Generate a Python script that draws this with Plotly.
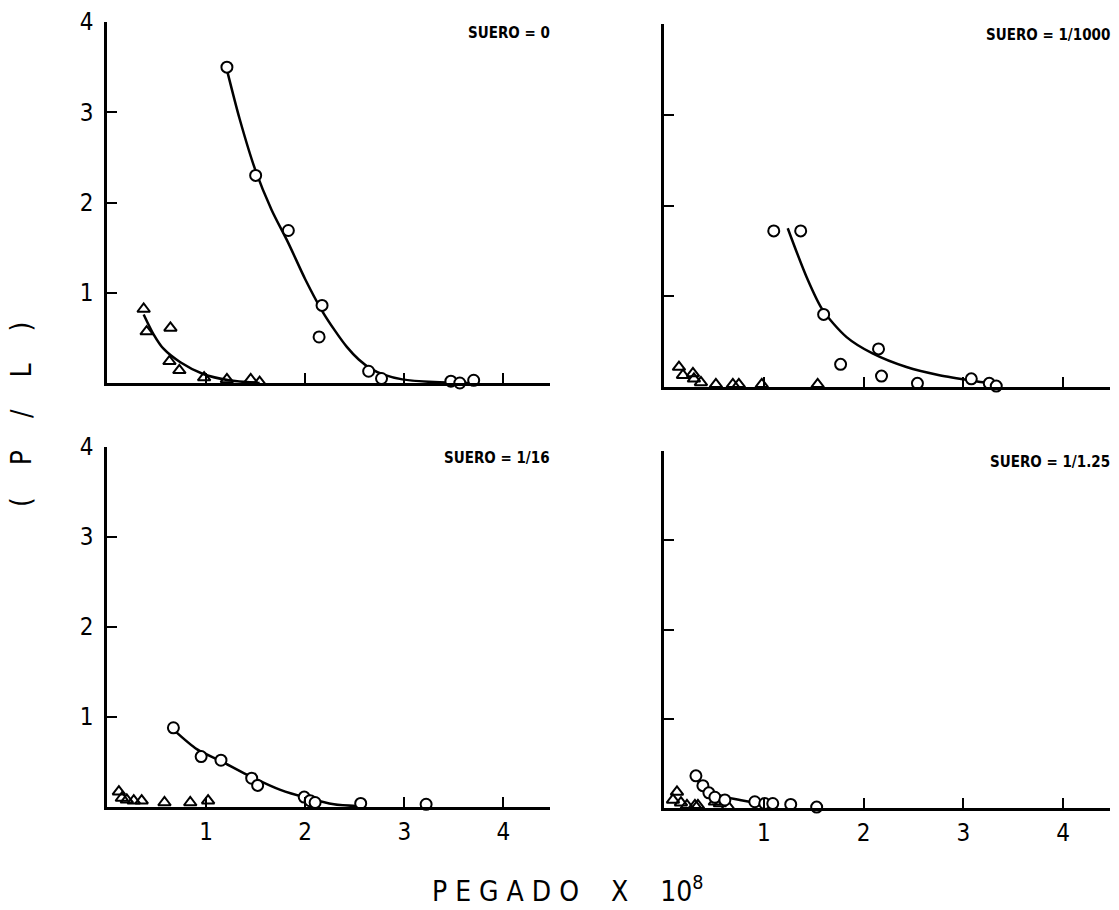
import plotly.graph_objects as go

# ---------------- data ----------------
# Panel A: SUERO = 0
a_circ_x = [1.21, 1.50, 1.83, 2.17, 2.14, 2.64, 2.77, 3.47, 3.56, 3.70]
a_circ_y = [3.50, 2.30, 1.69, 0.86, 0.51, 0.13, 0.05, 0.02, 0.00, 0.03]
a_tri_x = [0.37, 0.40, 0.64, 0.63, 0.73, 0.98, 1.21, 1.45, 1.54]
a_tri_y = [0.82, 0.57, 0.61, 0.24, 0.14, 0.06, 0.04, 0.04, 0.01]
a_ccurve_x = [1.21, 1.34, 1.50, 1.66, 1.83, 2.00, 2.17, 2.30, 2.42, 2.54, 2.66, 2.80, 2.98, 3.30, 3.65]
a_ccurve_y = [3.47, 2.92, 2.35, 1.92, 1.55, 1.15, 0.80, 0.58, 0.40, 0.26, 0.16, 0.09, 0.04, 0.01, 0.00]
a_tcurve_x = [0.37, 0.47, 0.57, 0.74, 0.97, 1.23, 1.54]
a_tcurve_y = [0.76, 0.54, 0.38, 0.23, 0.10, 0.03, 0.00]

# Panel B: SUERO = 1/1000
b_circ_x = [1.10, 1.37, 1.60, 2.15, 1.77, 2.18, 2.54, 3.08, 3.26, 3.33]
b_circ_y = [1.72, 1.72, 0.80, 0.42, 0.25, 0.12, 0.04, 0.09, 0.04, 0.01]
b_tri_x = [0.15, 0.19, 0.29, 0.30, 0.37, 0.52, 0.69, 0.75, 0.98, 1.54]
b_tri_y = [0.22, 0.13, 0.15, 0.09, 0.05, 0.03, 0.03, 0.03, 0.03, 0.03]
b_ccurve_x = [1.24, 1.43, 1.59, 1.83, 2.09, 2.43, 2.76, 3.09, 3.29]
b_ccurve_y = [1.75, 1.21, 0.85, 0.55, 0.37, 0.22, 0.13, 0.07, 0.04]

# Panel C: SUERO = 1/16
c_circ_x = [0.67, 0.95, 1.15, 1.46, 1.52, 1.99, 2.05, 2.10, 2.56, 3.22]
c_circ_y = [0.88, 0.56, 0.52, 0.32, 0.24, 0.11, 0.07, 0.05, 0.04, 0.03]
c_tri_x = [0.12, 0.15, 0.20, 0.27, 0.35, 0.58, 0.84, 1.02]
c_tri_y = [0.17, 0.10, 0.08, 0.07, 0.07, 0.05, 0.05, 0.07]
c_ccurve_x = [0.67, 0.91, 1.15, 1.41, 1.75, 2.02, 2.29, 2.52]
c_ccurve_y = [0.86, 0.64, 0.51, 0.36, 0.19, 0.10, 0.03, 0.01]

# Panel D: SUERO = 1/1.25
d_circ_x = [0.32, 0.39, 0.45, 0.51, 0.61, 0.91, 1.01, 1.09, 1.27, 1.53]
d_circ_y = [0.36, 0.25, 0.17, 0.12, 0.09, 0.07, 0.05, 0.05, 0.04, 0.01]
d_tri_x = [0.13, 0.09, 0.17, 0.23, 0.31, 0.34, 0.51, 0.56, 0.64]
d_tri_y = [0.18, 0.09, 0.06, 0.03, 0.03, 0.03, 0.07, 0.05, 0.02]
d_ccurve_x = [0.32, 0.43, 0.59, 0.76, 0.93, 1.09]
d_ccurve_y = [0.33, 0.20, 0.13, 0.09, 0.06, 0.04]

panel_labels = ["SUERO = 0", "SUERO = 1/1000", "SUERO = 1/16", "SUERO = 1/1.25"]
tick_vals = [1, 2, 3, 4]
tick_text = ["1", "2", "3", "4"]

# ---------------- figure ----------------
FONT = "Liberation Sans Narrow, DejaVu Sans Condensed, Arial Narrow, Liberation Sans, sans-serif"
fig = go.Figure()

panels = [
    (a_circ_x, a_circ_y, a_tri_x, a_tri_y, [(a_ccurve_x, a_ccurve_y), (a_tcurve_x, a_tcurve_y)]),
    (b_circ_x, b_circ_y, b_tri_x, b_tri_y, [(b_ccurve_x, b_ccurve_y)]),
    (c_circ_x, c_circ_y, c_tri_x, c_tri_y, [(c_ccurve_x, c_ccurve_y)]),
    (d_circ_x, d_circ_y, d_tri_x, d_tri_y, [(d_ccurve_x, d_ccurve_y)]),
]

W, H = 1119, 910
boxes = [  # (x0, x1, ytop, ybottom) in pixels
    (107, 550, 22, 383),
    (664, 1110, 24, 387),
    (107, 550, 447, 807),
    (664, 1110, 451, 808),
]

for i, (cx, cy, tx, ty, curves) in enumerate(panels):
    n = "" if i == 0 else str(i + 1)
    xa, ya = "x" + n, "y" + n
    for (lx, ly) in curves:
        fig.add_trace(go.Scatter(x=lx, y=ly, mode="lines", xaxis=xa, yaxis=ya,
                                 line=dict(color="black", width=2.5, shape="spline", smoothing=0.8),
                                 cliponaxis=False, showlegend=False, hoverinfo="skip"))
    fig.add_trace(go.Scatter(x=tx, y=ty, mode="markers", xaxis=xa, yaxis=ya,
                             marker=dict(symbol="triangle-up-open", size=11, color="black",
                                         line=dict(width=2, color="black")),
                             cliponaxis=False, showlegend=False))
    fig.add_trace(go.Scatter(x=cx, y=cy, mode="markers", xaxis=xa, yaxis=ya,
                             marker=dict(symbol="circle", size=11, color="white",
                                         line=dict(width=2, color="black")),
                             cliponaxis=False, showlegend=False))
    x0, x1, yt, yb = boxes[i]
    bottom = i >= 2
    left = i % 2 == 0
    fig.layout["xaxis" + n] = dict(
        domain=[x0 / W, x1 / W], anchor=ya, range=[0, 4.47], automargin=False,
        showline=True, linecolor="black", linewidth=2.5,
        ticks="inside", ticklen=10, tickwidth=2, tickcolor="black",
        tickvals=tick_vals, ticktext=tick_text, showticklabels=bottom,
        ticklabelstandoff=1,
        tickfont=dict(family=FONT, size=24, color="black"),
        showgrid=False, zeroline=False, fixedrange=True,
    )
    fig.layout["yaxis" + n] = dict(
        domain=[1 - yb / H, 1 - yt / H], anchor=xa, range=[0, 4], automargin=False,
        showline=True, linecolor="black", linewidth=2.5,
        ticks="inside", ticklen=10, tickwidth=2, tickcolor="black",
        tickvals=tick_vals, ticktext=tick_text, showticklabels=left,
        ticklabelstandoff=6,
        tickfont=dict(family=FONT, size=24, color="black"),
        showgrid=False, zeroline=False, fixedrange=True,
    )
    fig.add_annotation(x=x1 / W + 0.002, y=1 - (yt + 11) / H, xref="paper", yref="paper",
                       text="<b>" + panel_labels[i] + "</b>", showarrow=False,
                       xanchor="right", yanchor="middle",
                       font=dict(family=FONT, size=15, color="black"))

fig.add_annotation(x=22 / W, y=1 - 415 / H, xref="paper", yref="paper",
                   text="(    P    /    L    )", textangle=-90, showarrow=False,
                   xanchor="center", yanchor="middle",
                   font=dict(family=FONT, size=28, color="black"))
fig.add_annotation(x=568 / W, y=1 - 889 / H, xref="paper", yref="paper",
                   text="P E G A D O    X    10<sup>8</sup>", showarrow=False,
                   xanchor="center", yanchor="middle",
                   font=dict(family=FONT, size=28, color="black"))

fig.update_layout(width=W, height=H, margin=dict(l=0, r=0, t=0, b=0, autoexpand=False),
                  paper_bgcolor="white", plot_bgcolor="white", showlegend=False)

fig.write_html("out.html")
